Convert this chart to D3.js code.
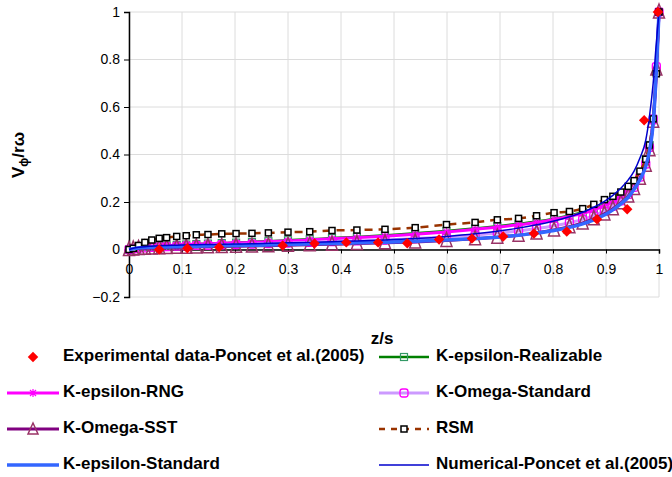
<!DOCTYPE html>
<html>
<head>
<meta charset="utf-8">
<script src="https://cdn.jsdelivr.net/npm/d3@7"></script>
<style>
  body { margin: 0; background: #fff; }
  svg { font-family: "Liberation Sans", Arial, sans-serif; }
</style>
</head>
<body>
<div id="chart"></div>
<script>
// Mesh points shared by the CFD series (z/s)
const zGrid = [0, 0.008, 0.018, 0.03, 0.043, 0.057, 0.071, 0.09, 0.108, 0.127, 0.149, 0.175, 0.202, 0.232, 0.263, 0.3, 0.341, 0.383, 0.43, 0.483, 0.54, 0.599, 0.653, 0.695, 0.735, 0.769, 0.802, 0.831, 0.856, 0.877, 0.897, 0.913, 0.928, 0.942, 0.953, 0.964, 0.975, 0.982, 0.989, 0.995, 1.0];

const realizable = [0, 0.004, 0.008, 0.011, 0.013, 0.015, 0.017, 0.019, 0.021, 0.023, 0.025, 0.027, 0.029, 0.032, 0.035, 0.039, 0.043, 0.048, 0.053, 0.06, 0.068, 0.078, 0.089, 0.098, 0.108, 0.118, 0.13, 0.143, 0.157, 0.172, 0.19, 0.208, 0.228, 0.253, 0.28, 0.32, 0.38, 0.44, 0.55, 0.75, 1.0];
const rng = [0, 0.004, 0.007, 0.01, 0.012, 0.014, 0.016, 0.018, 0.02, 0.022, 0.024, 0.026, 0.028, 0.03, 0.033, 0.036, 0.04, 0.045, 0.05, 0.056, 0.064, 0.074, 0.085, 0.094, 0.104, 0.114, 0.126, 0.139, 0.152, 0.167, 0.185, 0.203, 0.223, 0.248, 0.275, 0.315, 0.37, 0.43, 0.54, 0.74, 1.0];
const omegaStd = [0, 0.003, 0.005, 0.007, 0.009, 0.011, 0.012, 0.014, 0.015, 0.017, 0.018, 0.02, 0.021, 0.023, 0.025, 0.027, 0.03, 0.033, 0.036, 0.04, 0.046, 0.053, 0.061, 0.069, 0.078, 0.088, 0.1, 0.113, 0.127, 0.143, 0.162, 0.182, 0.205, 0.232, 0.262, 0.305, 0.36, 0.43, 0.55, 0.77, 1.0];
const sst = [0, 0.002, 0.004, 0.005, 0.006, 0.007, 0.008, 0.009, 0.01, 0.011, 0.012, 0.013, 0.014, 0.015, 0.016, 0.018, 0.02, 0.022, 0.025, 0.028, 0.032, 0.038, 0.045, 0.052, 0.06, 0.07, 0.082, 0.096, 0.112, 0.13, 0.15, 0.172, 0.197, 0.225, 0.257, 0.3, 0.355, 0.42, 0.54, 0.76, 1.0];
const rsm = [0, 0.005, 0.017, 0.03, 0.04, 0.047, 0.05, 0.055, 0.058, 0.062, 0.063, 0.066, 0.067, 0.068, 0.07, 0.073, 0.075, 0.08, 0.082, 0.085, 0.092, 0.105, 0.114, 0.125, 0.131, 0.142, 0.155, 0.16, 0.172, 0.19, 0.21, 0.224, 0.242, 0.266, 0.29, 0.33, 0.38, 0.44, 0.55, 0.74, 1.0];
const epsStd = [0, 0.003, 0.006, 0.008, 0.009, 0.01, 0.011, 0.012, 0.013, 0.014, 0.015, 0.016, 0.017, 0.018, 0.019, 0.021, 0.023, 0.025, 0.028, 0.031, 0.035, 0.04, 0.046, 0.052, 0.06, 0.069, 0.08, 0.093, 0.108, 0.125, 0.145, 0.167, 0.192, 0.22, 0.253, 0.295, 0.35, 0.415, 0.53, 0.75, 1.0];
const poncetNum = [0, 0.005, 0.009, 0.012, 0.014, 0.016, 0.017, 0.018, 0.019, 0.02, 0.021, 0.022, 0.023, 0.024, 0.026, 0.028, 0.03, 0.033, 0.036, 0.04, 0.046, 0.055, 0.066, 0.077, 0.09, 0.104, 0.12, 0.138, 0.157, 0.178, 0.203, 0.228, 0.258, 0.293, 0.33, 0.385, 0.46, 0.56, 0.7, 0.87, 1.0];

// Experimental data - Poncet et al. (2005)
const expZ = [0.057, 0.11, 0.17, 0.29, 0.35, 0.41, 0.47, 0.525, 0.585, 0.647, 0.706, 0.764, 0.826, 0.883, 0.94, 0.972, 0.998];
const expV = [0.0, 0.005, 0.01, 0.017, 0.025, 0.03, 0.03, 0.026, 0.042, 0.046, 0.055, 0.067, 0.076, 0.127, 0.169, 0.544, 1.0];

const xTicks = [0, 0.1, 0.2, 0.3, 0.4, 0.5, 0.6, 0.7, 0.8, 0.9, 1];
const yTicks = [-0.2, 0, 0.2, 0.4, 0.6, 0.8, 1];

const W = 672, H = 477;
const svg = d3.select("#chart").append("svg").attr("width", W).attr("height", H);

const x = d3.scaleLinear().domain([0, 1]).range([129, 659]);
const y = d3.scaleLinear().domain([-0.2, 1]).range([297, 12]);

// gridlines
svg.append("g")
  .selectAll("line.v")
  .data(xTicks)
  .join("line")
  .attr("x1", (d) => x(d)).attr("x2", (d) => x(d))
  .attr("y1", y(1)).attr("y2", y(-0.2))
  .attr("stroke", "#dcdcdc").attr("stroke-width", 1);
svg.append("g")
  .selectAll("line.h")
  .data(yTicks)
  .join("line")
  .attr("x1", x(0)).attr("x2", x(1))
  .attr("y1", (d) => y(d)).attr("y2", (d) => y(d))
  .attr("stroke", "#dcdcdc").attr("stroke-width", 1);

// axes
const yAxis = svg.append("g")
  .attr("transform", `translate(${x(0)},0)`)
  .call(d3.axisLeft(y).tickValues(yTicks).tickSize(5).tickPadding(4).tickFormat(d3.format("")));
const xAxis = svg.append("g")
  .attr("transform", `translate(0,${y(0)})`)
  .call(d3.axisBottom(x).tickValues(xTicks).tickSize(4).tickPadding(11).tickFormat(d3.format("")));
[yAxis, xAxis].forEach((g) => {
  g.select(".domain").attr("stroke", "#000").attr("stroke-width", 1.5);
  g.selectAll(".tick line").attr("stroke", "#000");
  g.selectAll("text").style("font-size", "14px").attr("fill", "#000");
});

// axis titles
svg.append("text")
  .attr("x", 382).attr("y", 340)
  .attr("text-anchor", "middle").attr("dominant-baseline", "middle")
  .style("font-size", "17px").style("font-weight", "bold")
  .text("z/s");
const yt = svg.append("text")
  .attr("transform", "translate(24,155) rotate(-90)")
  .attr("text-anchor", "middle")
  .style("font-size", "17px").style("font-weight", "bold");
yt.append("tspan").text("V");
yt.append("tspan").attr("dy", 4).style("font-size", "12px").text("\u03D5");
yt.append("tspan").attr("dy", -4).text("/r\u03C9");

// marker symbols
function drawMarker(g, type, cx, cy) {
  if (type === "diamond") {
    g.append("path")
      .attr("d", d3.symbol(d3.symbolDiamond2, 70)())
      .attr("transform", `translate(${cx},${cy})`)
      .attr("fill", "#ff0000");
  } else if (type === "greenSquare") {
    g.append("rect").attr("x", cx - 3.5).attr("y", cy - 3.5).attr("width", 7).attr("height", 7)
      .attr("fill", "none").attr("stroke", "#339966").attr("stroke-width", 1.2);
  } else if (type === "star") {
    g.append("path")
      .attr("d", `M${cx - 4},${cy}H${cx + 4}M${cx},${cy - 4}V${cy + 4}M${cx - 3},${cy - 3}L${cx + 3},${cy + 3}M${cx - 3},${cy + 3}L${cx + 3},${cy - 3}`)
      .attr("stroke", "#ff00ff").attr("stroke-width", 1.2);
  } else if (type === "circle") {
    g.append("rect").attr("x", cx - 4).attr("y", cy - 4).attr("width", 8).attr("height", 8).attr("rx", 2.5)
      .attr("fill", "none").attr("stroke", "#ff00ff").attr("stroke-width", 1.3);
  } else if (type === "triangle") {
    g.append("path")
      .attr("d", `M${cx},${cy - 8}L${cx + 5.5},${cy + 6}L${cx - 5.5},${cy + 6}Z`)
      .attr("fill", "none").attr("stroke", "#993366").attr("stroke-width", 1.5);
  } else if (type === "blackSquare") {
    g.append("rect").attr("x", cx - 3).attr("y", cy - 3).attr("width", 6).attr("height", 6)
      .attr("fill", "#fff").attr("stroke", "#000").attr("stroke-width", 1.5);
  }
}

const series = [
  { name: "K-epsilon-Realizable", values: realizable, color: "#008000", width: 2.5, marker: "greenSquare" },
  { name: "K-epsilon-RNG", values: rng, color: "#ff00ff", width: 3, marker: "star" },
  { name: "K-Omega-Standard", values: omegaStd, color: "#cc99ff", width: 3, marker: "circle" },
  { name: "K-Omega-SST", values: sst, color: "#800080", width: 3, marker: "triangle" },
  { name: "RSM", values: rsm, color: "#993300", width: 2.5, marker: "blackSquare", dash: "8,6" },
  { name: "K-epsilon-Standard", values: epsStd, color: "#3366ff", width: 3.5, marker: null },
  { name: "Numerical-Poncet et al.(2005)", values: poncetNum, color: "#0000cc", width: 1.5, marker: null },
];

const line = d3.line()
  .x((d) => x(d[0]))
  .y((d) => y(d[1]))
  .curve(d3.curveMonotoneX);

const plot = svg.append("g");
series.forEach((s) => {
  const pts = zGrid.map((z, i) => [z, s.values[i]]);
  plot.append("path")
    .attr("d", line(pts))
    .attr("fill", "none")
    .attr("stroke", s.color)
    .attr("stroke-width", s.width)
    .attr("stroke-dasharray", s.dash || null);
  if (s.marker) {
    const mg = plot.append("g");
    pts.forEach((p) => drawMarker(mg, s.marker, x(p[0]), y(p[1])));
  }
});

// experimental points on top
const eg = svg.append("g");
expZ.forEach((z, i) => drawMarker(eg, "diamond", x(z), y(expV[i])));

// legend
const legendItems = [
  { name: "Experimental data-Poncet et al.(2005)", color: null, marker: "diamond" },
  ...series,
];
const colX = [[7, 59, 63], [379, 429, 436]];
const rowY = [357, 393, 429, 465];
const legend = svg.append("g");
legendItems.forEach((d, i) => {
  const c = colX[i % 2], ry = rowY[Math.floor(i / 2)];
  if (d.color) {
    legend.append("line")
      .attr("x1", c[0]).attr("x2", c[1]).attr("y1", ry).attr("y2", ry)
      .attr("stroke", d.color).attr("stroke-width", d.width)
      .attr("stroke-dasharray", d.dash ? "6,6" : null);
  }
  if (d.marker) {
    if (d.marker === "triangle") {
      const mx = (c[0] + c[1]) / 2;
      legend.append("path")
        .attr("d", `M${mx},${ry - 6}L${mx + 5},${ry + 5}L${mx - 5},${ry + 5}Z`)
        .attr("fill", "none").attr("stroke", "#993366").attr("stroke-width", 1.5);
    } else {
      drawMarker(legend, d.marker, (c[0] + c[1]) / 2, ry);
    }
  }
  legend.append("text")
    .attr("x", c[2]).attr("y", ry)
    .attr("dominant-baseline", "middle")
    .style("font-size", "17px").style("font-weight", "bold")
    .text(d.name);
});
</script>
</body>
</html>
